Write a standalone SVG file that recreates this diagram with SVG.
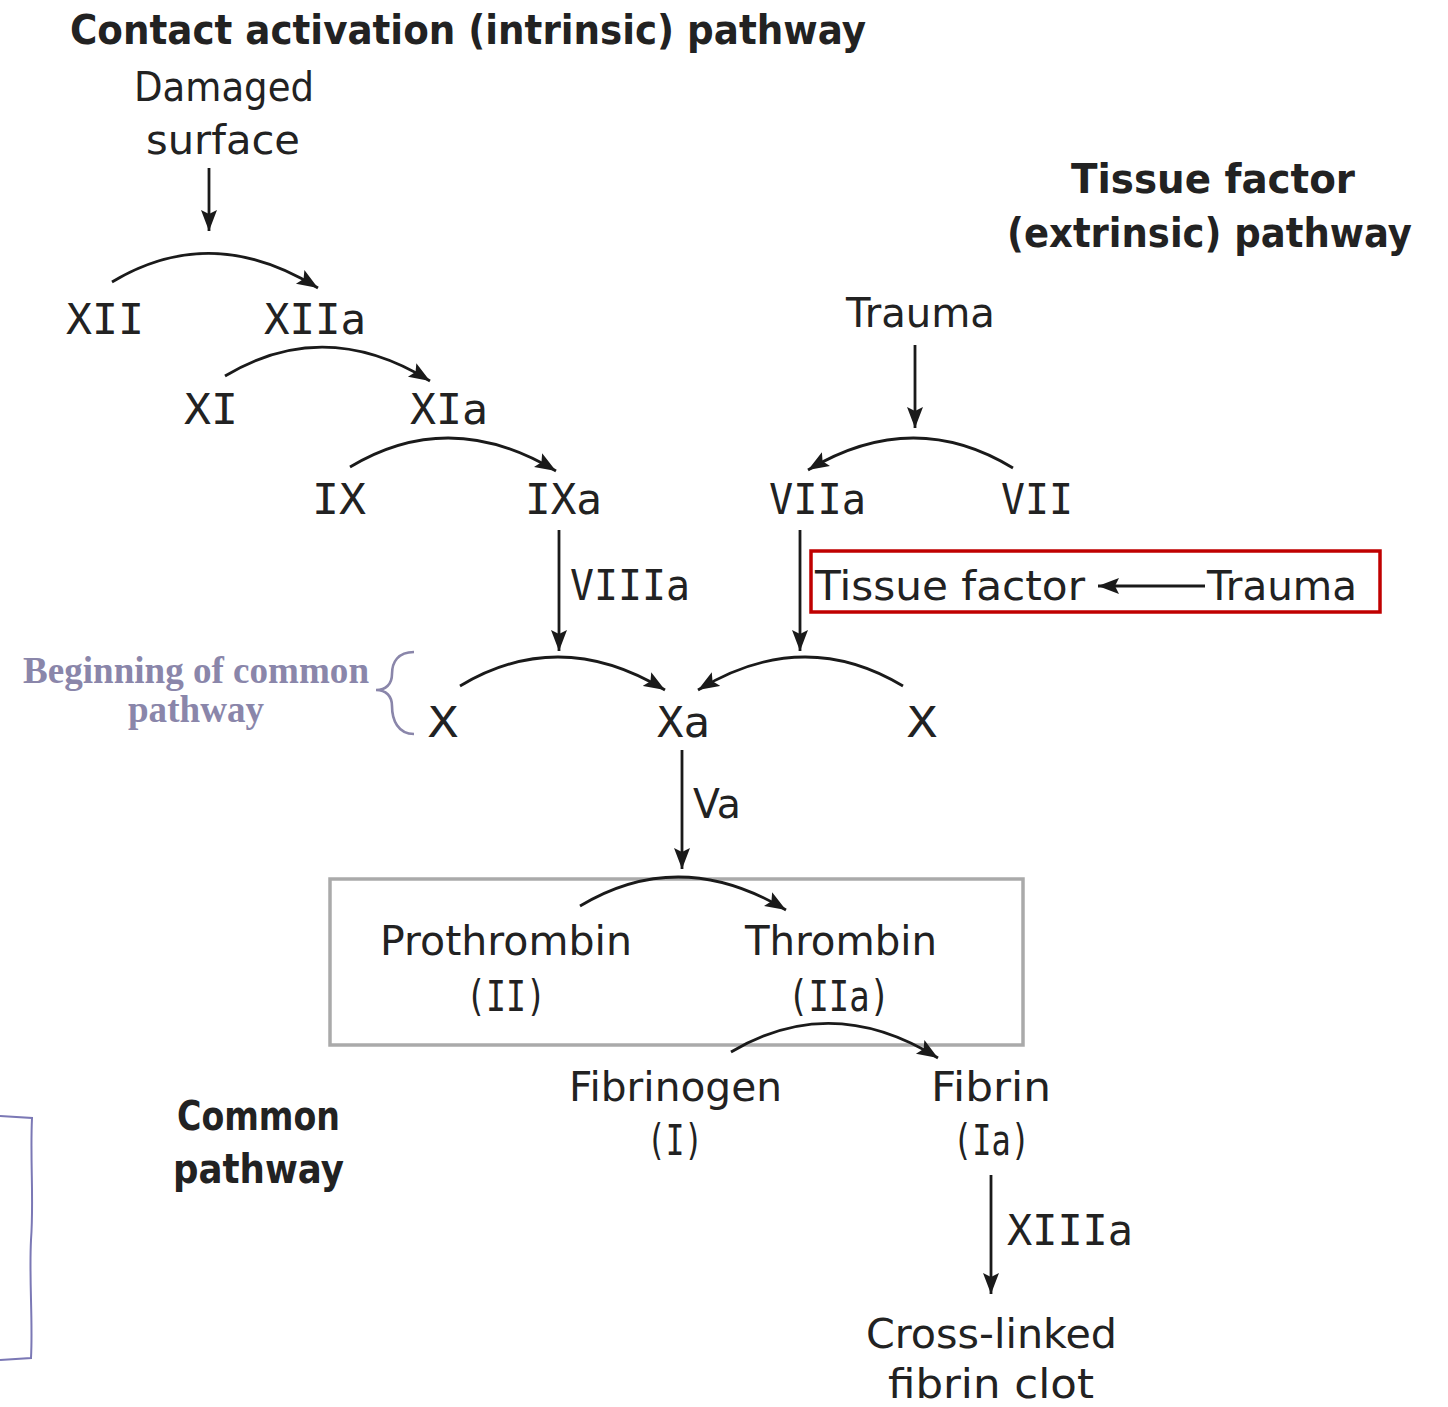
<svg xmlns="http://www.w3.org/2000/svg" width="1448" height="1407" viewBox="0 0 1448 1407">
  <defs>
    <style>
      text { font-family: "DejaVu Sans", "Liberation Sans", sans-serif; fill: #222; font-size: 41px; }
      .r { font-family: "DejaVu Sans Mono", "Liberation Mono", monospace; font-size: 43px; }
      .b { font-weight: bold; }
      .note { font-family: "Liberation Serif", "DejaVu Serif", serif; font-weight: bold; fill: #8a86aa; font-size: 37px; }
      .ln { fill: none; stroke: #1a1a1a; stroke-width: 2.8; }
      .arr { marker-end: url(#ah); }
    </style>
    <marker id="ah" markerUnits="userSpaceOnUse" markerWidth="24" markerHeight="18" refX="21" refY="9" orient="auto">
      <path d="M0,1 L21,9 L0,17 L4,9 z" fill="#1a1a1a"/>
    </marker>
  </defs>
  <rect width="1448" height="1407" fill="#ffffff"/>

  <g id="boxes">
    <rect id="tissue-factor-box" x="811" y="551" width="569" height="61" fill="none" stroke="#c00000" stroke-width="3.5"/>
    <rect id="common-box" x="330" y="879" width="693" height="166" fill="none" stroke="#aaaaaa" stroke-width="3.5"/>
  </g>

  <g id="connectors">
    <line class="ln arr" x1="209" y1="168" x2="209" y2="231"/>
    <path class="ln arr" d="M112,282 Q212,222 318,288"/>
    <path class="ln arr" d="M225,376 Q325,316 430,381"/>
    <path class="ln arr" d="M350,467 Q450,407 556,471"/>
    <line class="ln arr" x1="915" y1="345" x2="915" y2="428"/>
    <path class="ln arr" d="M1013,468 Q913,407 808,470"/>
    <line class="ln arr" x1="559" y1="530" x2="559" y2="651"/>
    <line class="ln arr" x1="800" y1="530" x2="800" y2="651"/>
    <line class="ln arr" x1="1205" y1="586" x2="1098" y2="586"/>
    <path class="ln arr" d="M460,686 Q560,626 665,690"/>
    <path class="ln arr" d="M903,686 Q803,626 698,690"/>
    <line class="ln arr" x1="682" y1="750" x2="682" y2="869"/>
    <path class="ln arr" d="M580,906 Q680,846 786,910"/>
    <path class="ln arr" d="M731,1052 Q832,992 938,1058"/>
    <line class="ln arr" x1="991" y1="1175" x2="991" y2="1294"/>
  </g>

  <g id="title-intrinsic"><text class="b" x="70" y="44" font-size="40" textLength="796" lengthAdjust="spacingAndGlyphs">Contact activation (intrinsic) pathway</text></g>
  <g id="damaged-surface">
    <text x="134" y="101" textLength="180" lengthAdjust="spacingAndGlyphs">Damaged</text>
    <text x="146" y="154" textLength="154" lengthAdjust="spacingAndGlyphs">surface</text>
  </g>
  <g id="n-XII"><text class="r" x="66" y="334" textLength="78" lengthAdjust="spacingAndGlyphs">XII</text></g>
  <g id="n-XIIa"><text class="r" x="264" y="334" textLength="102" lengthAdjust="spacingAndGlyphs">XIIa</text></g>
  <g id="n-XI"><text class="r" x="184" y="424" textLength="54" lengthAdjust="spacingAndGlyphs">XI</text></g>
  <g id="n-XIa"><text class="r" x="410" y="424" textLength="78" lengthAdjust="spacingAndGlyphs">XIa</text></g>
  <g id="n-IX"><text class="r" x="312" y="514" textLength="54" lengthAdjust="spacingAndGlyphs">IX</text></g>
  <g id="n-IXa"><text class="r" x="525" y="514" textLength="77" lengthAdjust="spacingAndGlyphs">IXa</text></g>
  <g id="title-extrinsic">
    <text class="b" x="1355" y="193" text-anchor="end" textLength="284" lengthAdjust="spacingAndGlyphs">Tissue factor</text>
    <text class="b" x="1412" y="247" font-size="39" text-anchor="end" textLength="405" lengthAdjust="spacingAndGlyphs">(extrinsic) pathway</text>
  </g>
  <g id="n-trauma"><text x="846" y="327" textLength="149" lengthAdjust="spacingAndGlyphs">Trauma</text></g>
  <g id="n-VIIa"><text class="r" x="769" y="514" textLength="97" lengthAdjust="spacingAndGlyphs">VIIa</text></g>
  <g id="n-VII"><text class="r" x="1001" y="514" textLength="72" lengthAdjust="spacingAndGlyphs">VII</text></g>
  <g id="l-VIIIa"><text class="r" x="570" y="600" textLength="120" lengthAdjust="spacingAndGlyphs">VIIIa</text></g>
  <g id="n-tissue-factor"><text x="815" y="600" textLength="270" lengthAdjust="spacingAndGlyphs">Tissue factor</text></g>
  <g id="n-trauma2"><text x="1207" y="600" textLength="150" lengthAdjust="spacingAndGlyphs">Trauma</text></g>
  <g id="n-X-left"><text class="r" x="428" y="737" textLength="30" lengthAdjust="spacingAndGlyphs">X</text></g>
  <g id="n-Xa"><text class="r" x="657" y="737" textLength="53" lengthAdjust="spacingAndGlyphs">Xa</text></g>
  <g id="n-X-right"><text class="r" x="907" y="737" textLength="30" lengthAdjust="spacingAndGlyphs">X</text></g>
  <g id="l-Va"><text x="693" y="818" textLength="48" lengthAdjust="spacingAndGlyphs">Va</text></g>
  <g id="n-prothrombin">
    <text x="380" y="955" textLength="252" lengthAdjust="spacingAndGlyphs">Prothrombin</text>
    <text class="r" x="466" y="1011" textLength="80" lengthAdjust="spacingAndGlyphs">(II)</text>
  </g>
  <g id="n-thrombin">
    <text x="745" y="955" textLength="192" lengthAdjust="spacingAndGlyphs">Thrombin</text>
    <text class="r" x="788" y="1011" textLength="102" lengthAdjust="spacingAndGlyphs">(IIa)</text>
  </g>
  <g id="n-fibrinogen">
    <text x="569" y="1101" textLength="213" lengthAdjust="spacingAndGlyphs">Fibrinogen</text>
    <text class="r" x="647" y="1155" textLength="56" lengthAdjust="spacingAndGlyphs">(I)</text>
  </g>
  <g id="n-fibrin">
    <text x="931" y="1101" textLength="120" lengthAdjust="spacingAndGlyphs">Fibrin</text>
    <text class="r" x="953" y="1155" textLength="77" lengthAdjust="spacingAndGlyphs">(Ia)</text>
  </g>
  <g id="l-XIIIa"><text class="r" x="1007" y="1245" textLength="126" lengthAdjust="spacingAndGlyphs">XIIIa</text></g>
  <g id="n-clot">
    <text x="866" y="1348" textLength="251" lengthAdjust="spacingAndGlyphs">Cross-linked</text>
    <text x="888" y="1398" textLength="206" lengthAdjust="spacingAndGlyphs">fibrin clot</text>
  </g>
  <g id="title-common">
    <text class="b" x="177" y="1130" textLength="163" lengthAdjust="spacingAndGlyphs">Common</text>
    <text class="b" x="173" y="1183" textLength="171" lengthAdjust="spacingAndGlyphs">pathway</text>
  </g>
  <g id="note-beginning">
    <text class="note" x="23" y="683" textLength="346" lengthAdjust="spacingAndGlyphs">Beginning of common</text>
    <text class="note" x="128" y="722" textLength="136" lengthAdjust="spacingAndGlyphs">pathway</text>
    <path d="M414,652 C398,652 392,662 392,674 C392,684 386,690 376,690 C386,690 392,696 392,706 C392,720 398,734 414,734" fill="none" stroke="#8a86aa" stroke-width="2.6"/>
  </g>
  <g id="left-bracket">
    <path d="M0,1116 L32,1118 C30,1160 34,1200 31,1240 C29,1280 33,1320 31,1358 L0,1360" fill="none" stroke="#7b78b5" stroke-width="2"/>
  </g>
</svg>
